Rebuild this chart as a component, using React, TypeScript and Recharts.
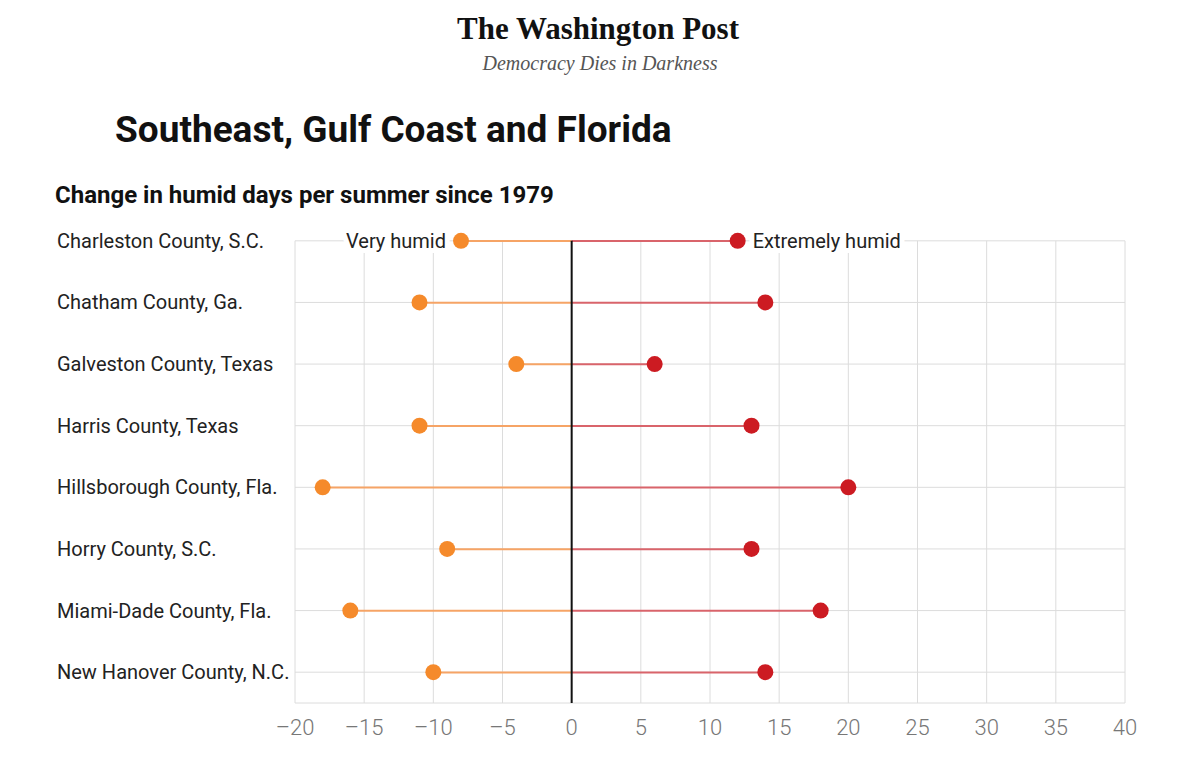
import {
  ComposedChart,
  Bar,
  Line,
  XAxis,
  YAxis,
  CartesianGrid,
  ReferenceLine,
  LabelList,
} from "recharts";

const COUNTIES = [
  "Charleston County, S.C.",
  "Chatham County, Ga.",
  "Galveston County, Texas",
  "Harris County, Texas",
  "Hillsborough County, Fla.",
  "Horry County, S.C.",
  "Miami-Dade County, Fla.",
  "New Hanover County, N.C.",
];
const VERY_HUMID = [-8, -11, -4, -11, -18, -9, -16, -10];
const EXTREMELY_HUMID = [12, 14, 6, 13, 20, 13, 18, 14];
const X_TICKS = [-20, -15, -10, -5, 0, 5, 10, 15, 20, 25, 30, 35, 40];

const ORANGE = "#f58a2b";
const ORANGE_LINE = "#f6a466";
const RED = "#cc1b22";
const RED_LINE = "#d9646b";
const GRID = "#dcdcdc";
const FONT = "Roboto, 'Noto Sans', sans-serif";

const data = COUNTIES.map((county, i) => ({
  county,
  veryHumid: VERY_HUMID[i],
  extremelyHumid: EXTREMELY_HUMID[i],
}));

function CountyTick({ y, payload }: { y: number; payload: { value: string } }) {
  return (
    <text x={57} y={y} dy={7} textAnchor="start" fill="#222" fontSize={20} fontFamily={FONT}>
      {payload.value}
    </text>
  );
}

function ValueTick({ x, y, payload }: { x: number; y: number; payload: { value: number } }) {
  const v = payload.value;
  const label = v < 0 ? `–${Math.abs(v)}` : `${v}`;
  return (
    <text x={x} y={y} dy={24} textAnchor="middle" fill="#777" fontSize={22} fontFamily={FONT} fontWeight={300}>
      {label}
    </text>
  );
}

// vertical grid lines start at the first row, not at the top of the plot
function VLine(props: any) {
  const half = (props.y2 - props.y1) / COUNTIES.length / 2;
  return (
    <line
      key={props.key}
      x1={props.x1}
      x2={props.x2}
      y1={props.y1 + half}
      y2={props.y2}
      stroke={GRID}
      strokeWidth={1}
    />
  );
}

// no border line at the top edge of the plot
function HLine(props: any) {
  if (Math.abs(props.y1 - props.y) < 1) return <g key={props.key} />;
  return (
    <line
      key={props.key}
      x1={props.x1}
      x2={props.x2}
      y1={props.y1}
      y2={props.y2}
      stroke={GRID}
      strokeWidth={1}
    />
  );
}

function ZeroLine(props: any) {
  const top = Math.min(props.y1, props.y2);
  const bottom = Math.max(props.y1, props.y2);
  const half = (bottom - top) / COUNTIES.length / 2;
  return (
    <line x1={props.x1} x2={props.x2} y1={top + half} y2={bottom} stroke="#111" strokeWidth={2} />
  );
}

function seriesLabel(text: string, side: "left" | "right") {
  return (props: any) => {
    if (props.index !== 0) return null;
    const x = Number(props.x);
    const y = Number(props.y);
    return (
      <text
        x={side === "left" ? x - 15 : x + 15}
        y={y}
        dy={7}
        textAnchor={side === "left" ? "end" : "start"}
        fill="#222"
        fontSize={20}
        fontFamily={FONT}
        stroke="#fff"
        strokeWidth={10}
        paintOrder="stroke"
      >
        {text}
      </text>
    );
  };
}

export default function App() {
  return (
    <div
      style={{
        position: "absolute",
        left: 0,
        top: 0,
        width: 1200,
        height: 781,
        background: "#fff",
        overflow: "hidden",
      }}
    >
      <div
        style={{
          position: "absolute",
          left: 0,
          width: 1200,
          top: 10,
          textAlign: "center",
          fontFamily: "'Liberation Serif', serif",
          fontWeight: 700,
          fontSize: 31,
          color: "#111",
          lineHeight: "38px",
        }}
      >
        <span style={{ marginLeft: -4 }}>The Washington Post</span>
      </div>
      <div
        style={{
          position: "absolute",
          left: 0,
          width: 1200,
          top: 51,
          textAlign: "center",
          fontFamily: "'Liberation Serif', serif",
          fontStyle: "italic",
          fontSize: 20,
          color: "#555",
          lineHeight: "24px",
        }}
      >
        Democracy Dies in Darkness
      </div>
      <div
        style={{
          position: "absolute",
          left: 115,
          top: 108,
          fontFamily: FONT,
          fontWeight: 700,
          fontSize: 37,
          color: "#111",
          lineHeight: "44px",
        }}
      >
        Southeast, Gulf Coast and Florida
      </div>
      <div
        style={{
          position: "absolute",
          left: 55,
          top: 180,
          fontFamily: FONT,
          fontWeight: 700,
          fontSize: 24,
          color: "#111",
          lineHeight: "30px",
        }}
      >
        Change in humid days per summer since 1979
      </div>
      <div style={{ position: "absolute", left: 0, top: 0 }}>
        <ComposedChart
          width={1200}
          height={781}
          data={data}
          layout="vertical"
          stackOffset="sign"
          margin={{ top: 210, right: 75, bottom: 38, left: 0 }}
        >
          <CartesianGrid stroke={GRID} vertical={VLine} horizontal={HLine} />
          <XAxis
            type="number"
            domain={[-20, 40]}
            ticks={X_TICKS}
            axisLine={false}
            tickLine={false}
            height={40}
            tick={ValueTick}
            interval={0}
          />
          <YAxis
            type="category"
            dataKey="county"
            width={295}
            axisLine={false}
            tickLine={false}
            tick={CountyTick}
            interval={0}
          />
          <ReferenceLine x={0} shape={ZeroLine} />
          <Bar dataKey="veryHumid" stackId="a" fill={ORANGE_LINE} barSize={2} isAnimationActive={false} />
          <Bar dataKey="extremelyHumid" stackId="a" fill={RED_LINE} barSize={2} isAnimationActive={false} />
          <Line
            dataKey="veryHumid"
            stroke="none"
            dot={{ r: 8, fill: ORANGE, stroke: "none" }}
            activeDot={false}
            isAnimationActive={false}
          >
            <LabelList content={seriesLabel("Very humid", "left")} />
          </Line>
          <Line
            dataKey="extremelyHumid"
            stroke="none"
            dot={{ r: 8, fill: RED, stroke: "none" }}
            activeDot={false}
            isAnimationActive={false}
          >
            <LabelList content={seriesLabel("Extremely humid", "right")} />
          </Line>
        </ComposedChart>
      </div>
    </div>
  );
}
